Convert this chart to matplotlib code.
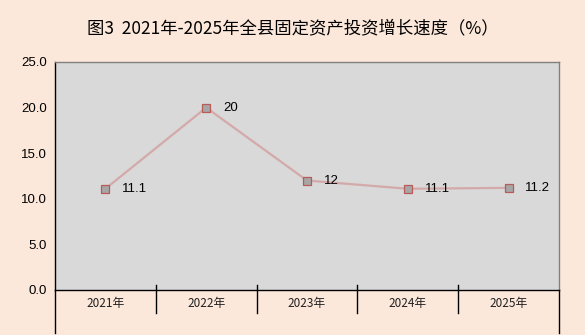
import matplotlib
matplotlib.use("Agg")
from matplotlib import pyplot as plt

plt.rcParams['font.family'] = ['Liberation Sans', 'Noto Sans CJK SC', 'DejaVu Sans']

# data
years  = ['2021年', '2022年', '2023年', '2024年', '2025年']
growth = [11.1, 20, 12, 11.1, 11.2]
labels = ['11.1', '20', '12', '11.1', '11.2']
yticks = [0, 5, 10, 15, 20, 25]

bg = '#FCE8DB'

fig = plt.figure(figsize=(5.85, 3.35), dpi=100, facecolor=bg)
W, H = 585, 335
ax = fig.add_axes([55/W, 1-290/H, (559-55)/W, (290-62)/H])
ax.set_facecolor('#D9D9D9')

x = list(range(len(years)))
ax.plot(x, growth, '-', color='#D4A9A9', lw=1.6, zorder=2)
ax.plot(x, growth, 's', ms=6, mfc='#A6A6A6', mec='#B85A58', mew=0.9, zorder=3)
for xi, yi, t in zip(x, growth, labels):
  ax.annotate(t, (xi, yi), xytext=(12, 0), textcoords='offset points',
              va='center', ha='left', fontsize=9.5, color='black')

ax.set_xlim(-0.5, len(years)-0.5)
ax.set_ylim(0, 25)
ax.set_yticks(yticks)
ax.set_yticklabels(['%.1f' % v for v in yticks], fontsize=9.5)
ax.tick_params(axis='y', length=0, pad=6)
ax.set_xticks([])

# spines
ax.spines['top'].set_color('#808080')
ax.spines['right'].set_color('#808080')
ax.spines['left'].set_color('black')
ax.spines['bottom'].set_color('black')
for s in ax.spines.values():
  s.set_linewidth(1.0)

# category area below the plot
tr = ax.get_xaxis_transform()
ax.plot([-0.5, -0.5], [0, -43/228], color='black', lw=1.0, transform=tr, clip_on=False)
ax.plot([4.5, 4.5], [0, -43/228], color='black', lw=1.0, transform=tr, clip_on=False)
for i in range(1, len(years)):
  ax.plot([i-0.5, i-0.5], [5/228, -23/228], color='black', lw=1.0, transform=tr, clip_on=False)
for xi, t in zip(x, years):
  ax.text(xi, -13/228, t, transform=tr, ha='center', va='center', fontsize=8.5,
          family=['Noto Sans CJK SC'], color='#202020')

fig.text(293/W, 1-28/H, '图3  2021年-2025年全县固定资产投资增长速度（%）', ha='center', va='center',
         fontsize=12.5, family=['Noto Sans CJK SC', 'DejaVu Sans'])

fig.savefig('out.png', dpi=100, facecolor=bg)
